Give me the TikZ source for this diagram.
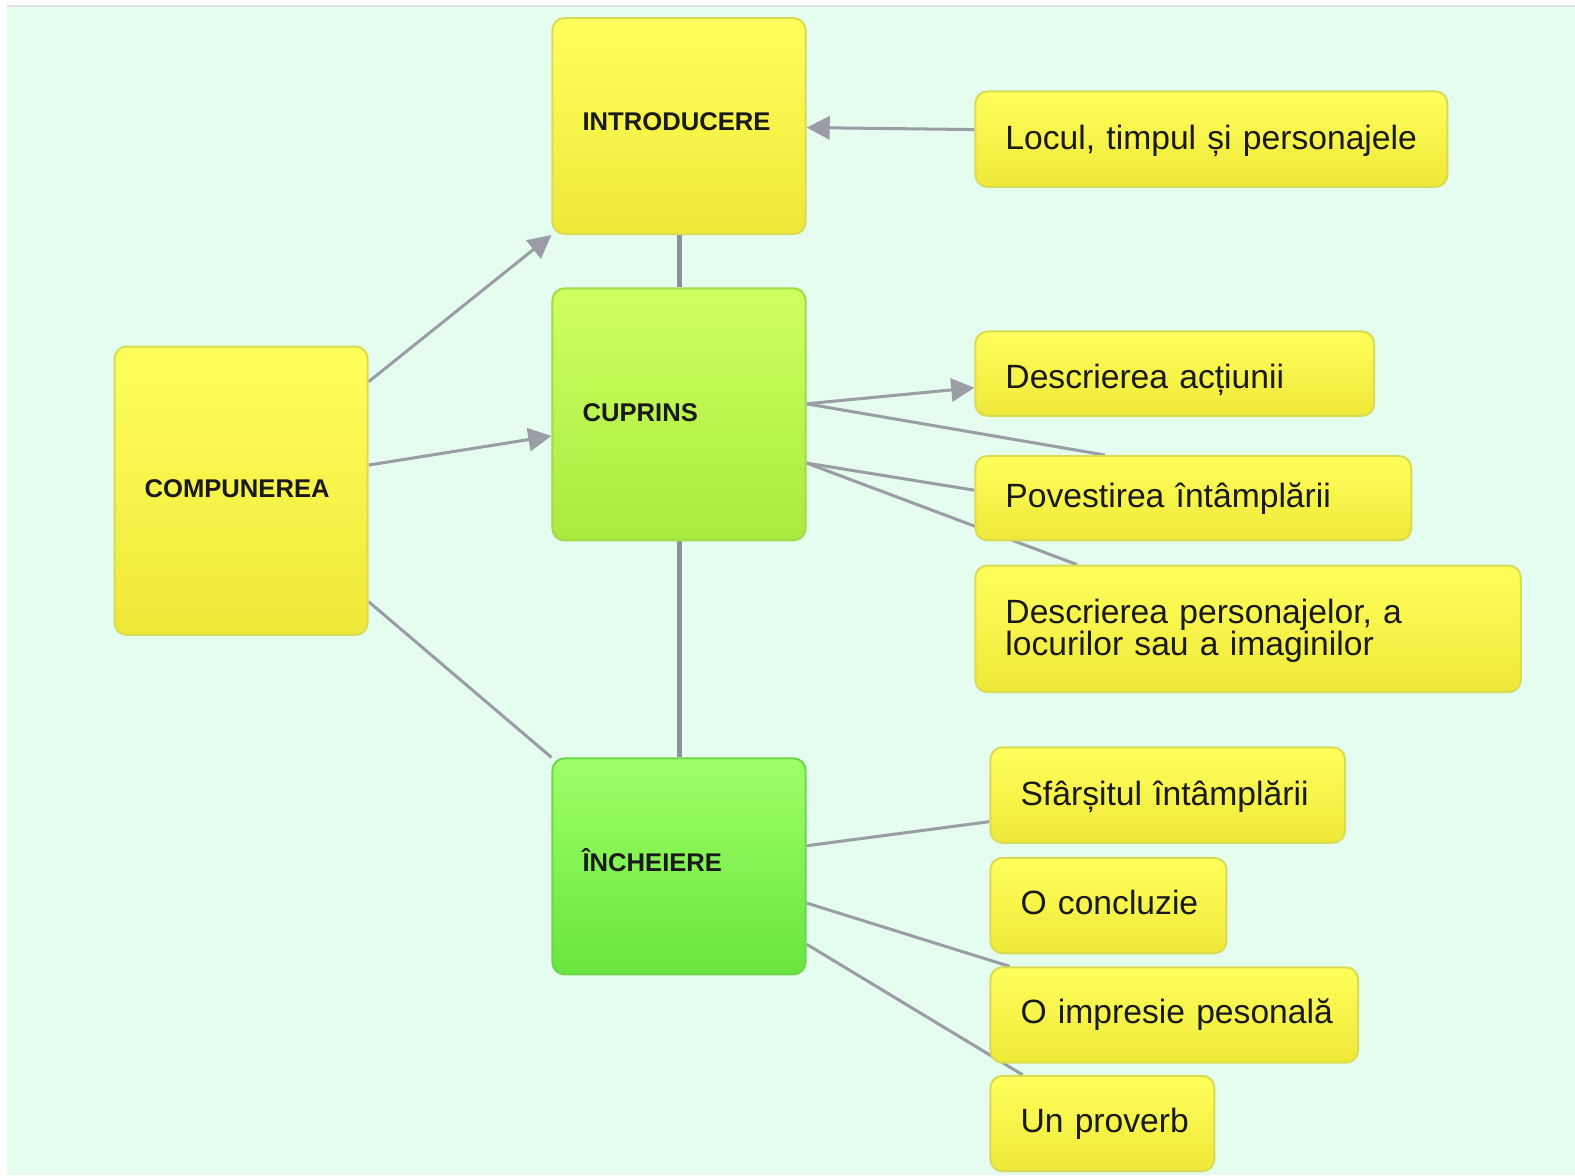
\documentclass[tikz,border=0pt]{standalone}
\usepackage{fontspec}
\setmainfont{Liberation Sans}
\usetikzlibrary{arrows.meta,calc}
\pgfdeclarelayer{bg}
\pgfdeclarelayer{edges}
\pgfsetlayers{bg,edges,main}
\definecolor{mint}{HTML}{E4FDEE}
\definecolor{edgegray}{HTML}{9A9CA6}
\definecolor{trunkgray}{HTML}{8C909B}
\definecolor{ytop}{HTML}{FFFF5C}
\definecolor{ybot}{HTML}{EEE838}
\definecolor{yborder}{HTML}{DADB55}
\definecolor{gtop}{HTML}{CEFF60}
\definecolor{gbot}{HTML}{A8EB40}
\definecolor{gborder}{HTML}{A0DC48}
\definecolor{htop}{HTML}{9EFF68}
\definecolor{hbot}{HTML}{68E53E}
\definecolor{hborder}{HTML}{6CD848}
\definecolor{txt}{HTML}{1A1A1A}
\newcommand\liftby[2]{\raisebox{#1}[\height][\depth]{#2}}
\tikzset{
  basebox/.style={rectangle, rounded corners=12pt, line width=2pt, anchor=north west,
    inner xsep=30pt, inner ysep=4pt, align=left, text=txt},
  ybox/.style={basebox, draw=yborder, top color=ytop, bottom color=ybot},
  gbox/.style={basebox, draw=gborder, top color=gtop, bottom color=gbot},
  hbox/.style={basebox, draw=hborder, top color=htop, bottom color=hbot},
  mainfont/.style={font=\fontsize{25.5}{30}\selectfont\bfseries},
  subfont/.style={font=\fontsize{33.5}{32}\selectfont},
  conn/.style={draw=edgegray, line width=3pt},
  arr/.style={conn, -{Triangle[length=23pt,width=23pt]}},
  trunk/.style={draw=trunkgray, line width=5pt}
}
\begin{document}
\begin{tikzpicture}[x=1pt,y=-1pt]
\useasboundingbox (0,0) rectangle (1568,1170);
\begin{pgfonlayer}{bg}
  \fill[white] (0,0) rectangle (1568,1170);
  \fill[mint] (7,5) rectangle (1568,1170);
  \fill[black!12] (7,5) rectangle (1568,7);
\end{pgfonlayer}

% main column
\node[ybox, mainfont, minimum width=252pt, minimum height=215pt, text width=192pt] (intro) at (549,17) {\liftby{4pt}{INTRODUCERE}};
\node[gbox, mainfont, minimum width=252pt, minimum height=251pt, text width=192pt] (cup) at (549,286) {\liftby{2pt}{CUPRINS}};
\node[ybox, mainfont, minimum width=252pt, minimum height=287pt, text width=192pt] (comp) at (113,344) {\liftby{2pt}{COMPUNEREA}};
\node[hbox, mainfont, minimum width=252pt, minimum height=215pt, text width=192pt] (inch) at (549,754) {\liftby{6pt}{ÎNCHEIERE}};

% leaves
\node[ybox, subfont, minimum width=470pt, minimum height=95pt, text width=410pt] (loc) at (970,90) {\liftby{-2pt}{Locul, timpul și personajele}};
\node[ybox, subfont, minimum width=397pt, minimum height=84pt, text width=337pt] (da) at (970,329) {\liftby{-6pt}{Descrierea acțiunii}};
\node[ybox, subfont, minimum width=434pt, minimum height=84pt, text width=374pt] (pov) at (970,453) {\mbox{Povestirea întâmplării}};
\node[ybox, subfont, minimum width=543pt, minimum height=126pt, text width=483pt] (dp) at (970,562) {\liftby{-2pt}{\mbox{Descrierea personajelor, a}}\\\liftby{-2pt}{\mbox{locurilor sau a imaginilor}}};
\node[ybox, subfont, minimum width=353pt, minimum height=95pt, text width=293pt] (sf) at (985,743) {\liftby{-2pt}{\mbox{Sfârșitul întâmplării}}};
\node[ybox, subfont, minimum width=235pt, minimum height=95pt, text width=175pt] (oc) at (985,853) {\liftby{3pt}{\mbox{O concluzie}}};
\node[ybox, subfont, minimum width=366pt, minimum height=95pt, text width=306pt] (oi) at (985,962) {\mbox{O impresie pesonală}};
\node[ybox, subfont, minimum width=223pt, minimum height=95pt, text width=163pt] (up) at (985,1070) {\mbox{Un proverb}};

\begin{pgfonlayer}{edges}
  \draw[arr] ([yshift=-36pt]comp.north east) -- (intro.south west);
  \draw[arr] ([yshift=-119pt]comp.north east) -- ([yshift=-21.5pt]cup.west);
  \draw[conn] ([yshift=34pt]comp.south east) -- (inch.north west);
  \draw[trunk] (intro.south) -- (cup.north);
  \draw[trunk] (cup.south) -- (inch.north);
  \draw[arr] ([yshift=9.5pt]loc.west) -- ([yshift=-1.5pt]intro.east);
  \draw[arr] ([yshift=10.5pt]cup.east) -- ([yshift=-14pt]da.west);
  \draw[conn] ([yshift=10.5pt]cup.east) -- ([xshift=130pt]pov.north west);
  \draw[conn] ([yshift=-48.5pt]cup.east) -- ([yshift=8pt]pov.west);
  \draw[conn] ([yshift=-48.5pt]cup.east) -- ([xshift=102pt]dp.north west);
  \draw[conn] ([yshift=20.5pt]inch.east) -- ([yshift=-26.5pt]sf.west);
  \draw[conn] ([yshift=-36.5pt]inch.east) -- ([xshift=20pt]oi.north west);
  \draw[conn] ([yshift=-77.5pt]inch.east) -- ([xshift=33pt]up.north west);
\end{pgfonlayer}
\end{tikzpicture}
\end{document}
